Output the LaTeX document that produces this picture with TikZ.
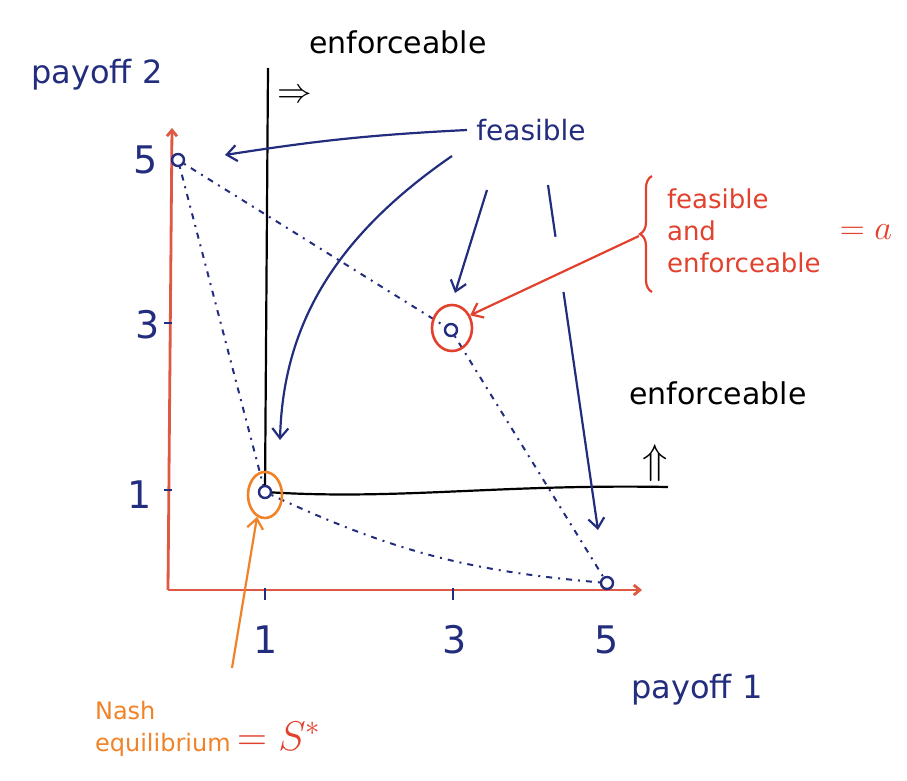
\documentclass[tikz,border=0pt]{standalone}
\usepackage{fontspec}
\setmainfont{DejaVu Sans}
\usetikzlibrary{arrows.meta,calc,shapes.geometric,decorations.pathreplacing}

\definecolor{penblue}{RGB}{35,45,125}
\definecolor{penred}{RGB}{225,65,45}
\definecolor{penorange}{RGB}{240,130,40}
\definecolor{axisred}{RGB}{222,88,66}

\begin{document}
\begin{tikzpicture}[
  x=0.5pt, y=-0.5pt,
  >={Straight Barb[length=5pt,width=8pt]},
  pen/.style={line width=1.1pt},
  axis/.style={axisred, line width=1.4pt, -{Straight Barb[length=3pt,width=5pt]}},
  pt/.style={circle, draw=penblue, line width=1.2pt, inner sep=0pt, minimum size=6pt},
  hull/.style={penblue, line width=1pt, dash pattern=on 1pt off 3pt on 3pt off 3pt},
  ring/.style={ellipse, line width=1.3pt, inner sep=0pt},
  ticklbl/.style={text=penblue, font=\fontsize{19}{22}\selectfont},
  axlbl/.style={text=penblue, font=\fontsize{16}{19}\selectfont},
  enf/.style={font=\fontsize{15}{18}\selectfont},
  feas/.style={text=penblue, font=\fontsize{14}{17}\selectfont},
  fa/.style={->, penblue, pen}
]

\useasboundingbox (0,0) rectangle (907,781);

% axes
\coordinate (O) at (168,590);
\coordinate (xend) at (642,590);
\coordinate (yend) at (172,128);
\draw[axis] (O) -- (xend);
\draw[axis] (O) -- (yend);

\foreach \tx in {265,453}
  \draw[penblue, line width=1pt] (\tx,588) -- (\tx,600);
\foreach \ty in {490,323}
  \draw[penblue, line width=1pt] (164,\ty) -- (172,\ty);

\node[ticklbl] (x1) at (266,640) {1};
\node[ticklbl] (x3) at (455,640) {3};
\node[ticklbl] (x5) at (607,640) {5};
\node[ticklbl] (y5) at (146,160) {5};
\node[ticklbl] (y3) at (148,325) {3};
\node[ticklbl] (y1) at (140,495) {1};

\node[axlbl] (pay2) at (97,75)  {payoff 2};
\node[axlbl] (pay1) at (697,690) {payoff 1};

% payoff points
\node[pt] (p05) at (178,160) {};
\node[pt] (p33) at (451,330) {};
\node[pt] (p11) at (265,492) {};
\node[pt] (p50) at (607,583) {};

\draw[hull] (p05) -- (p11);
\draw[hull] (p05) -- (p33) -- (p50);
\draw[hull] (p11) to[bend right=10] (p50);

% enforceable region
\coordinate (vtop) at (268,68);
\coordinate (hend) at (668,487);
\draw[pen] (p11) -- (vtop);
\draw[pen] (p11) .. controls (400,500) and (500,484) .. (hend);
\node[enf] (enfV) at (398,42) {enforceable};
\node[font=\fontsize{16}{18}\selectfont] (implV) at (295,96) {$\Rightarrow$};
\node[enf] (enfH) at (718,393) {enforceable};
\node[font=\fontsize{20}{22}\selectfont] (implH) at (655,463) {$\Uparrow$};

% feasible
\node[feas] (feas) at (531,130) {feasible};
\coordinate (f1) at (467,130);
\coordinate (f2) at (452,156);
\coordinate (f3) at (487,190);
\coordinate (f4) at (548,185);
\coordinate (a05) at (225,155);
\coordinate (a11) at (280,440);
\coordinate (a33) at (455,293);
\coordinate (a50) at (598,530);
\draw[fa] (f1) to[bend right=3] (a05);
\draw[fa] (f2) .. controls (330,240) and (283,330) .. (a11);
\draw[fa] (f3) -- (a33);
\draw[penblue, pen] (f4) -- ($(f4)!0.15!(a50)$);
\draw[fa] ($(f4)!0.31!(a50)$) -- (a50);

% feasible and enforceable
\node[ring, draw=penred, minimum width=20pt, minimum height=23pt] (ringA) at (452,328) {};
\draw[penred, pen, decorate, decoration={brace, amplitude=6pt}] (652,292) -- (652,176);
\coordinate (btip) at (639,236);
\node[text=penred, anchor=west, align=left, font=\fontsize{13}{16}\selectfont] (fae) at (660,231)
  {feasible\\and\\enforceable};
\node[text=penred, font=\fontsize{16}{19}\selectfont] (eqa) at (866,232) {$=a$};
\draw[->, penred, pen] (btip) -- (ringA.35);

% Nash equilibrium
\node[ring, draw=penorange, minimum width=17pt, minimum height=23pt] (ringN) at (265,495) {};
\node[text=penorange, anchor=west, align=left, font=\fontsize{12}{16}\selectfont] (nash) at (88,729)
  {Nash\\equilibrium};
\node[text=penred, anchor=west, font=\fontsize{20}{24}\selectfont] (sstar) at (230,736) {$=S^{*}$};
\coordinate (ntail) at (232,668);
\draw[->, penorange, pen] (ntail) -- (ringN.250);

\end{tikzpicture}
\end{document}
